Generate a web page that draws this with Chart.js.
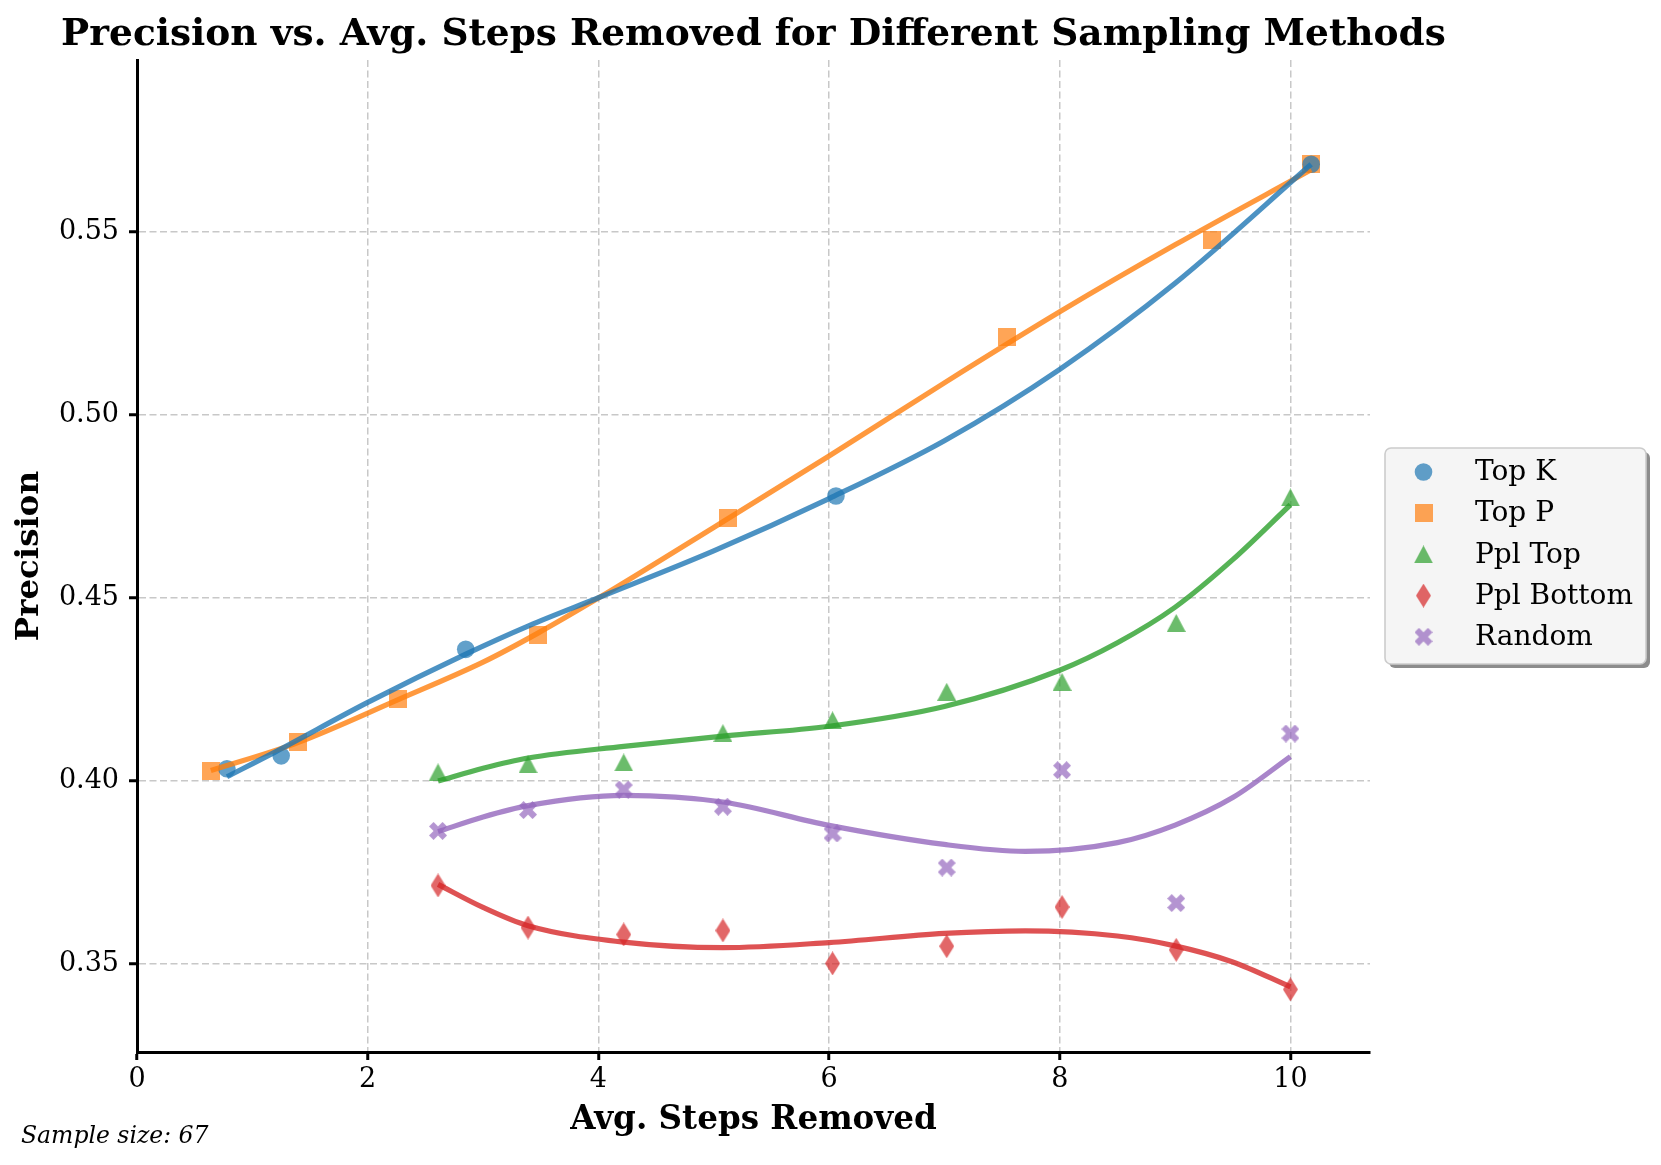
<!DOCTYPE html>
<html>
<head>
<meta charset="utf-8">
<title>Precision vs. Avg. Steps Removed</title>
<script src="https://cdn.jsdelivr.net/npm/chart.js@4/dist/chart.umd.min.js"></script>
<style>
  html, body { margin: 0; padding: 0; background: #fff; }
  canvas { display: block; }
</style>
</head>
<body>
<canvas id="precisionChart" width="1661" height="1165"></canvas>
<script>
// tick labels
const xTicks = [0, 2, 4, 6, 8, 10];
const yTicks = [0.35, 0.40, 0.45, 0.50, 0.55];

// sampling methods
const methods = ['Top K', 'Top P', 'Ppl Top', 'Ppl Bottom', 'Random'];

// measured points
const topKSteps = [0.78, 1.25, 2.85, 6.06, 10.18];
const topKPrecision = [0.4034, 0.4069, 0.4360, 0.4779, 0.5685];

const topPSteps = [0.64, 1.40, 2.26, 3.48, 5.12, 7.54, 9.32, 10.18];
const topPPrecision = [0.4027, 0.4107, 0.4224, 0.4398, 0.4719, 0.5214, 0.5477, 0.5685];

const pplSteps = [2.61, 3.39, 4.22, 5.08, 6.03, 7.02, 8.02, 9.01, 10.0];
const pplTopPrecision = [0.4024, 0.4046, 0.4051, 0.4131, 0.4166, 0.4244, 0.4271, 0.4432, 0.4775];
const pplBottomPrecision = [0.3715, 0.3600, 0.3581, 0.3592, 0.3502, 0.3549, 0.3656, 0.3539, 0.3431];
const randomPrecision = [0.3864, 0.3921, 0.3977, 0.3930, 0.3857, 0.3764, 0.4030, 0.3667, 0.4130];

// trend curves
const topKFitSteps = [0.78, 1.2, 2.0, 2.85, 3.4, 4.0, 5.0, 6.0, 7.0, 8.0, 9.0, 10.18];
const topKFitPrecision = [0.4012, 0.4080, 0.4215, 0.4347, 0.4425, 0.4501, 0.4629, 0.4772, 0.4930, 0.5125, 0.5360, 0.5685];

const topPFitSteps = [0.64, 1.4, 2.26, 3.0, 3.48, 4.0, 5.0, 6.0, 7.0, 8.0, 9.0, 10.18];
const topPFitPrecision = [0.4029, 0.4106, 0.4222, 0.4325, 0.4405, 0.4500, 0.4693, 0.4888, 0.5088, 0.5282, 0.5465, 0.5670];

const pplTopFitSteps = [2.61, 3.0, 3.39, 4.22, 5.08, 6.0, 7.0, 8.0, 8.5, 9.0, 9.5, 10.0];
const pplTopFitPrecision = [0.4000, 0.4035, 0.4063, 0.4095, 0.4123, 0.4150, 0.4204, 0.4303, 0.4378, 0.4475, 0.4605, 0.4755];

const pplBottomFitSteps = [2.61, 3.0, 3.39, 4.22, 5.08, 6.0, 7.0, 7.7, 8.5, 9.0, 9.5, 10.0];
const pplBottomFitPrecision = [0.3718, 0.3655, 0.3605, 0.3560, 0.3545, 0.3559, 0.3584, 0.3591, 0.3577, 0.3550, 0.3506, 0.3438];

const randomFitSteps = [2.61, 3.0, 3.39, 4.22, 5.08, 6.0, 7.0, 7.7, 8.5, 9.0, 9.5, 10.0];
const randomFitPrecision = [0.3862, 0.3902, 0.3933, 0.3961, 0.3943, 0.3879, 0.3827, 0.3808, 0.3832, 0.3880, 0.3955, 0.4067];

const sampleSize = 67;

const colors = ['#1f77b4', '#ff7f0e', '#2ca02c', '#d62728', '#9467bd'];
const serif = "'DejaVu Serif', 'Liberation Serif', serif";

function rgba(hex, a) {
    const n = parseInt(hex.slice(1), 16);
    return 'rgba(' + (n >> 16) + ',' + ((n >> 8) & 255) + ',' + (n & 255) + ',' + a + ')';
}

// matplotlib-like marker shapes as little canvases
function markerImage(shape, color) {
    const c = document.createElement('canvas');
    const g = c.getContext('2d');
    let pts;
    if (shape === 'square') {
        c.width = 18; c.height = 18;
        pts = [[0, 0], [18, 0], [18, 18], [0, 18]];
    } else if (shape === 'triangle') {
        c.width = 19; c.height = 18;
        pts = [[9.5, 0], [19, 18], [0, 18]];
    } else if (shape === 'diamond') {
        c.width = 15; c.height = 24;
        pts = [[7.5, 0], [15, 12], [7.5, 24], [0, 12]];
    } else {
        // filled X
        c.width = 18; c.height = 18;
        const s = 18, h = s / 2;
        const unit = [[-0.25, -0.5], [0, -0.25], [0.25, -0.5], [0.5, -0.25], [0.25, 0], [0.5, 0.25],
                      [0.25, 0.5], [0, 0.25], [-0.25, 0.5], [-0.5, 0.25], [-0.25, 0], [-0.5, -0.25]];
        pts = unit.map(p => [h + p[0] * s, h + p[1] * s]);
    }
    g.fillStyle = color;
    g.beginPath();
    pts.forEach((p, i) => i ? g.lineTo(p[0], p[1]) : g.moveTo(p[0], p[1]));
    g.closePath();
    g.fill();
    return c;
}

function toPoints(xs, ys) {
    return xs.map((x, i) => ({ x: x, y: ys[i] }));
}

const markerStyles = [
    'circle',
    markerImage('square', rgba(colors[1], 0.7)),
    markerImage('triangle', rgba(colors[2], 0.7)),
    markerImage('diamond', rgba(colors[3], 0.7)),
    markerImage('x', rgba(colors[4], 0.7))
];

const scatterData = [
    toPoints(topKSteps, topKPrecision),
    toPoints(topPSteps, topPPrecision),
    toPoints(pplSteps, pplTopPrecision),
    toPoints(pplSteps, pplBottomPrecision),
    toPoints(pplSteps, randomPrecision)
];
const fitData = [
    toPoints(topKFitSteps, topKFitPrecision),
    toPoints(topPFitSteps, topPFitPrecision),
    toPoints(pplTopFitSteps, pplTopFitPrecision),
    toPoints(pplBottomFitSteps, pplBottomFitPrecision),
    toPoints(randomFitSteps, randomFitPrecision)
];

const datasets = [];
methods.forEach((name, i) => {
    datasets.push({
        label: name,
        data: scatterData[i],
        order: 1,
        pointStyle: markerStyles[i],
        pointRadius: 8.8,
        pointBackgroundColor: rgba(colors[i], 0.7),
        pointBorderWidth: 0,
        showLine: false
    });
});
methods.forEach((name, i) => {
    datasets.push({
        label: name + ' fit',
        data: fitData[i],
        order: 0,
        showLine: true,
        pointRadius: 0,
        borderColor: rgba(colors[i], 0.8),
        borderWidth: 5.2,
        cubicInterpolationMode: 'monotone',
        fill: false
    });
});

// title, legend box and sample size note
const decorations = {
    id: 'decorations',
    afterDraw(chart) {
        const ctx = chart.ctx;
        const area = chart.chartArea;
        ctx.save();

        ctx.fillStyle = '#000';
        ctx.textAlign = 'center';
        ctx.textBaseline = 'middle';
        ctx.font = 'bold 37.5px ' + serif;
        ctx.fillText('Precision vs. Avg. Steps Removed for Different Sampling Methods',
                     (area.left + area.right) / 2, 35);

        ctx.textAlign = 'left';
        ctx.font = 'italic 23.5px ' + serif;
        ctx.fillText('Sample size: ' + sampleSize, 21, 1137);

        // legend
        const lx = 1385, ly = 448, lw = 261, lh = 216, r = 6;
        const box = (x, y) => {
            ctx.beginPath();
            ctx.moveTo(x + r, y);
            ctx.arcTo(x + lw, y, x + lw, y + lh, r);
            ctx.arcTo(x + lw, y + lh, x, y + lh, r);
            ctx.arcTo(x, y + lh, x, y, r);
            ctx.arcTo(x, y, x + lw, y, r);
            ctx.closePath();
        };
        box(lx + 4, ly + 4);
        ctx.fillStyle = 'rgba(0,0,0,0.45)';
        ctx.fill();
        box(lx, ly);
        ctx.fillStyle = '#f5f5f5';
        ctx.fill();
        ctx.lineWidth = 1.6;
        ctx.strokeStyle = '#cccccc';
        ctx.stroke();

        ctx.font = '28px ' + serif;
        ctx.textBaseline = 'middle';
        methods.forEach((name, i) => {
            const y = 472 + i * 41.2;
            const mx = 1423.5;
            const st = markerStyles[i];
            if (st === 'circle') {
                ctx.beginPath();
                ctx.arc(mx, y, 8.8, 0, Math.PI * 2);
                ctx.fillStyle = rgba(colors[i], 0.7);
                ctx.fill();
            } else {
                ctx.drawImage(st, mx - st.width / 2, y - st.height / 2);
            }
            ctx.fillStyle = '#000';
            ctx.fillText(name, 1475, y + 1);
        });
        ctx.restore();
    }
};

const tickFont = { family: serif, size: 27 };
const gridOpts = {
    color: '#c8c8c8',
    lineWidth: 1.5,
    tickLength: 8,
    tickColor: '#000',
    tickWidth: 3,
    tickBorderDash: []
};
const borderOpts = { display: true, color: '#000', width: 3, dash: [7, 3.5] };

new Chart(document.getElementById('precisionChart'), {
    type: 'scatter',
    data: { datasets: datasets },
    options: {
        responsive: false,
        animation: false,
        devicePixelRatio: 1,
        layout: { padding: { top: 60, right: 291, bottom: 0, left: 0 } },
        plugins: {
            legend: { display: false },
            tooltip: { enabled: false },
            title: { display: false }
        },
        scales: {
            x: {
                type: 'linear',
                min: 0,
                max: 10.69,
                afterBuildTicks: s => { s.ticks = xTicks.map(v => ({ value: v })); },
                afterFit: s => { s.height = 113; },
                ticks: { font: tickFont, color: '#000', padding: 4, callback: v => String(v) },
                grid: gridOpts,
                border: borderOpts,
                title: {
                    display: true,
                    text: 'Avg. Steps Removed',
                    color: '#000',
                    font: { family: serif, size: 32.6, weight: 'bold' },
                    padding: { top: 0, bottom: 25 }
                }
            },
            y: {
                type: 'linear',
                min: 0.326,
                max: 0.597,
                afterBuildTicks: s => { s.ticks = yTicks.map(v => ({ value: v })); },
                afterFit: s => { s.width = 137; },
                ticks: { font: tickFont, color: '#000', padding: 10, callback: v => v.toFixed(2) },
                grid: gridOpts,
                border: borderOpts,
                title: {
                    display: true,
                    text: 'Precision',
                    color: '#000',
                    font: { family: serif, size: 32.5, weight: 'bold' },
                    padding: { top: 10, bottom: 0 }
                }
            }
        }
    },
    plugins: [decorations]
});
</script>
</body>
</html>
